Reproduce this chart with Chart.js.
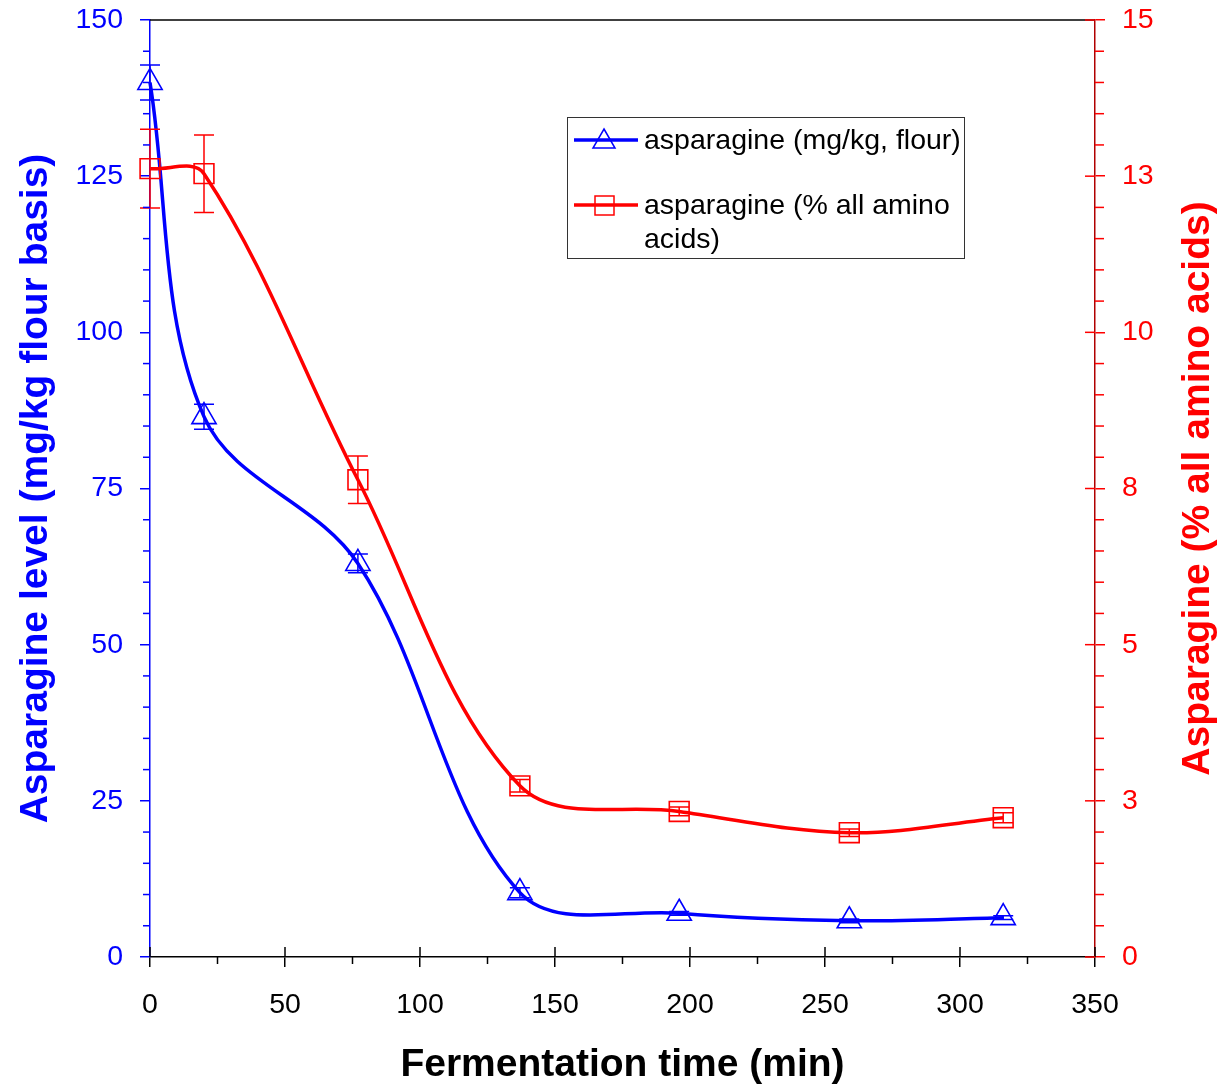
<!DOCTYPE html>
<html>
<head>
<meta charset="utf-8">
<script src="https://cdn.jsdelivr.net/npm/chart.js@4.4.0/dist/chart.umd.min.js"></script>
<style>
html, body { margin: 0; padding: 0; background: #fff; }
</style>
</head>
<body>
<canvas id="myChart" width="1229" height="1085"></canvas>
<script>
// Data
var times = [0, 20, 77, 137, 196, 259, 316];
var asnMgKg = [140, 86.5, 63, 10.3, 7.0, 5.8, 6.3];
var asnMgKgErr = [2.8, 2, 1.5, 0.8, 0.3, 0.3, 0.3];
var asnPct = [12.62, 12.54, 7.64, 2.74, 2.33, 1.99, 2.23];
var asnPctErr = [0.63, 0.62, 0.38, 0.1, 0.07, 0.06, 0.08];

// Tick values and labels
var xTicks = [0, 50, 100, 150, 200, 250, 300, 350];
var leftTicks = [0, 25, 50, 75, 100, 125, 150];
var rightTicks = [0, 2.5, 5, 7.5, 10, 12.5, 15];
var rightTickLabels = ['0', '3', '5', '8', '10', '13', '15'];

var FONT = "'Liberation Sans', Arial, sans-serif";
var BLUE = '#0000ff';
var RED = '#ff0000';
var DARKRED = '#b00000';

function toPoints(xs, ys) {
    return xs.map(function(x, i) { return { x: x, y: ys[i] }; });
}

function setTicks(values) {
    return function(scale) {
        scale.ticks = values.map(function(v) { return { value: v }; });
    };
}

// fix the axis box size so the plot area sits where the original does
function fitWidth(w) {
    return function(s) { s.width = w; s.paddingTop = 0; s.paddingBottom = 0; };
}

// Vertical error bars with caps
var errorBars = {
    id: 'errorBars',
    afterDatasetsDraw: function(chart) {
        var ctx = chart.ctx;
        chart.data.datasets.forEach(function(ds, i) {
            if (!ds.errors) return;
            var meta = chart.getDatasetMeta(i);
            var yScale = chart.scales[ds.yAxisID];
            ctx.save();
            ctx.strokeStyle = ds.borderColor;
            ctx.lineWidth = 1.5;
            meta.data.forEach(function(pt, j) {
                var v = ds.data[j].y, e = ds.errors[j];
                var top = yScale.getPixelForValue(v + e);
                var bot = yScale.getPixelForValue(v - e);
                ctx.beginPath();
                ctx.moveTo(pt.x, top); ctx.lineTo(pt.x, bot);
                ctx.moveTo(pt.x - 10, top); ctx.lineTo(pt.x + 10, top);
                ctx.moveTo(pt.x - 10, bot); ctx.lineTo(pt.x + 10, bot);
                ctx.stroke();
            });
            ctx.restore();
        });
    }
};

// Minor ticks, crossing major ticks, top frame line, right title, legend
var extras = {
    id: 'extras',
    afterDraw: function(chart) {
        var ctx = chart.ctx, a = chart.chartArea;
        var x = chart.scales.x, yl = chart.scales.yLeft, yr = chart.scales.yRight;
        function seg(x1, y1, x2, y2) { ctx.beginPath(); ctx.moveTo(x1, y1); ctx.lineTo(x2, y2); ctx.stroke(); }
        ctx.save();
        ctx.lineWidth = 1.5;

        // top frame
        ctx.strokeStyle = '#000';
        seg(a.left, a.top, a.right, a.top);

        // x axis: minor ticks outside, majors cross
        for (var v = 25; v < 350; v += 50) {
            var px = x.getPixelForValue(v);
            seg(px, a.bottom, px, a.bottom + 7);
        }
        xTicks.forEach(function(t) {
            var px = x.getPixelForValue(t);
            seg(px, a.bottom - 10, px, a.bottom);
        });

        // left axis minor ticks
        ctx.strokeStyle = BLUE;
        for (var m = 5; m < 150; m += 5) {
            if (m % 25 === 0) continue;
            var py = yl.getPixelForValue(m);
            seg(a.left - 7, py, a.left, py);
        }

        // right axis minor ticks and crossing majors
        ctx.strokeStyle = RED;
        for (var r = 0.5; r < 15; r += 0.5) {
            if (Math.abs(r / 2.5 - Math.round(r / 2.5)) < 1e-6) continue;
            var ry = yr.getPixelForValue(r);
            seg(a.right, ry, a.right + 9, ry);
        }
        rightTicks.forEach(function(t) {
            var ty = yr.getPixelForValue(t);
            seg(a.right - 10, ty, a.right, ty);
        });

        // right axis title, reading bottom to top
        ctx.fillStyle = RED;
        ctx.font = 'bold 39px ' + FONT;
        ctx.textAlign = 'center';
        ctx.textBaseline = 'middle';
        ctx.translate(1198, (a.top + a.bottom) / 2);
        ctx.rotate(-Math.PI / 2);
        ctx.fillText('Asparagine (% all amino acids)', 0, 0);
        ctx.restore();

        // legend box
        ctx.save();
        ctx.strokeStyle = '#333';
        ctx.lineWidth = 1;
        ctx.fillStyle = '#fff';
        ctx.fillRect(567.5, 117.5, 397, 141);
        ctx.strokeRect(567.5, 117.5, 397, 141);

        ctx.lineWidth = 3.5;
        ctx.strokeStyle = BLUE;
        seg(574, 140, 638, 140);
        ctx.lineWidth = 1.5;
        ctx.beginPath();
        ctx.moveTo(604, 129); ctx.lineTo(615, 148); ctx.lineTo(593, 148); ctx.closePath();
        ctx.stroke();

        ctx.lineWidth = 3.5;
        ctx.strokeStyle = RED;
        seg(574, 205, 638, 205);
        ctx.lineWidth = 1.5;
        ctx.strokeRect(595, 196, 19, 19);

        ctx.fillStyle = '#000';
        ctx.font = '28.5px ' + FONT;
        ctx.textAlign = 'left';
        ctx.textBaseline = 'middle';
        ctx.fillText('asparagine (mg/kg, flour)', 644, 141);
        ctx.fillText('asparagine (% all amino', 644, 206);
        ctx.fillText('acids)', 644, 240);
        ctx.restore();
    }
};

var ctx = document.getElementById('myChart').getContext('2d');

var myChart = new Chart(ctx, {
    type: 'line',
    data: {
        datasets: [{
            label: 'asparagine (mg/kg, flour)',
            data: toPoints(times, asnMgKg),
            errors: asnMgKgErr,
            yAxisID: 'yLeft',
            borderColor: BLUE,
            backgroundColor: 'rgba(0,0,0,0)',
            borderWidth: 3.5,
            pointStyle: 'triangle',
            pointRadius: 14,
            pointBorderWidth: 1.6,
            pointBorderColor: BLUE,
            pointBackgroundColor: 'rgba(0,0,0,0)',
            tension: 0.35,
            clip: false,
            order: 1
        }, {
            label: 'asparagine (% all amino acids)',
            data: toPoints(times, asnPct),
            errors: asnPctErr,
            yAxisID: 'yRight',
            borderColor: RED,
            backgroundColor: 'rgba(0,0,0,0)',
            borderWidth: 3.5,
            pointStyle: 'rect',
            pointRadius: 14,
            pointBorderWidth: 1.6,
            pointBorderColor: RED,
            pointBackgroundColor: 'rgba(0,0,0,0)',
            tension: 0.35,
            clip: false,
            order: 0
        }]
    },
    options: {
        responsive: false,
        animation: false,
        devicePixelRatio: 1,
        layout: { padding: { top: 20, left: 0, right: 0, bottom: 0 } },
        plugins: {
            legend: { display: false },
            tooltip: { enabled: false }
        },
        scales: {
            x: {
                type: 'linear',
                min: 0,
                max: 350,
                afterBuildTicks: setTicks(xTicks),
                afterFit: function(s) { s.height = 128; s.paddingLeft = 0; s.paddingRight = 0; },
                ticks: { color: '#000', font: { family: FONT, size: 28.5 }, padding: 21, maxRotation: 0 },
                grid: { display: true, drawOnChartArea: false, tickLength: 10, color: '#000', lineWidth: 1.5 },
                border: { color: '#000', width: 1.5 },
                title: {
                    display: true,
                    text: 'Fermentation time (min)',
                    color: '#000',
                    font: { family: FONT, size: 39, weight: 'bold', lineHeight: 1 },
                    padding: { top: 0, bottom: 0 }
                }
            },
            yLeft: {
                type: 'linear',
                position: 'left',
                min: 0,
                max: 150,
                afterBuildTicks: setTicks(leftTicks),
                afterFit: fitWidth(150),
                ticks: { color: BLUE, font: { family: FONT, size: 28.5 }, padding: 17 },
                grid: { display: true, drawOnChartArea: false, tickLength: 10, color: BLUE, lineWidth: 1.5 },
                border: { color: BLUE, width: 1.5 },
                title: {
                    display: true,
                    text: 'Asparagine level (mg/kg flour basis)',
                    color: BLUE,
                    font: { family: FONT, size: 39, weight: 'bold' },
                    padding: { top: 13, bottom: 0 }
                }
            },
            yRight: {
                type: 'linear',
                position: 'right',
                min: 0,
                max: 15,
                afterBuildTicks: setTicks(rightTicks),
                afterFit: fitWidth(134),
                ticks: {
                    color: RED,
                    font: { family: FONT, size: 28.5 },
                    padding: 17,
                    callback: function(value, index) { return rightTickLabels[index]; }
                },
                grid: { display: true, drawOnChartArea: false, tickLength: 10, color: RED, lineWidth: 1.5 },
                border: { color: DARKRED, width: 1.5 }
            }
        }
    },
    plugins: [errorBars, extras]
});
</script>
</body>
</html>
